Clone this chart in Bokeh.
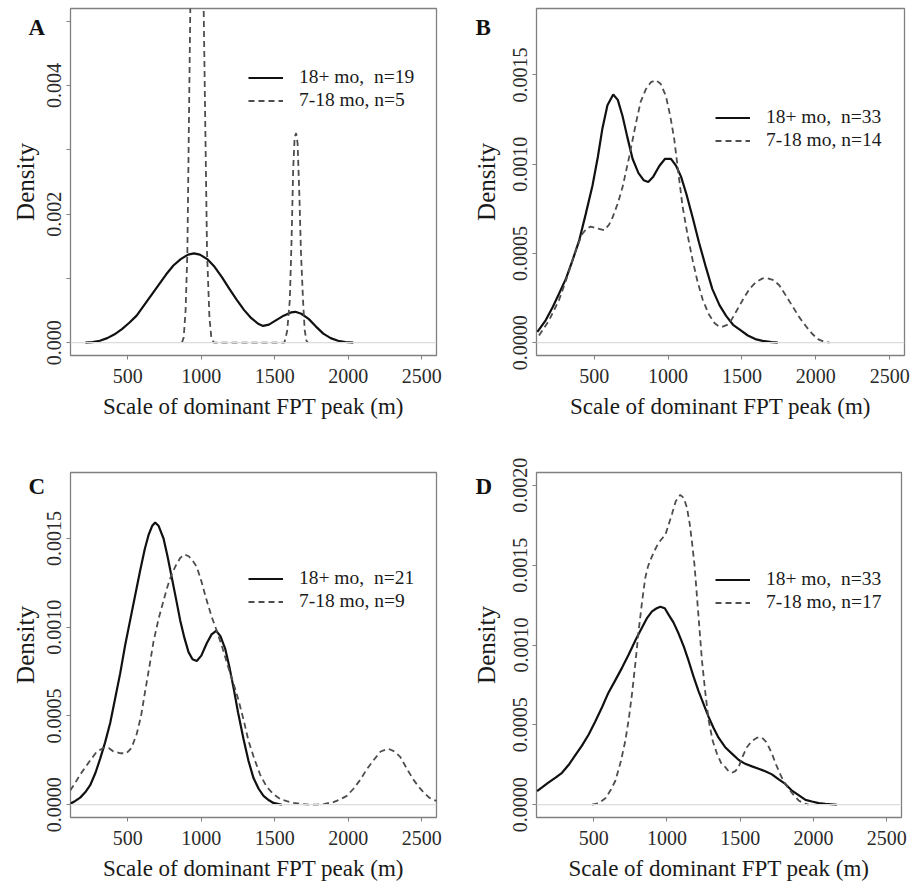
from bokeh.plotting import figure
from bokeh.layouts import column, row
from bokeh.models import Range1d, FixedTicker, Span, Legend, LegendItem, Label
from bokeh.embed import file_html
from bokeh.resources import INLINE

# ---------------- data ----------------
x_ticks = [500, 1000, 1500, 2000, 2500]
x_label = "Scale of dominant FPT peak (m)"
y_label = "Density"

# Panel A
a_solid_x = [211, 260, 310, 360, 410, 460, 510, 560, 610, 660, 710, 760, 810, 860, 910, 950, 990, 1040,
             1090, 1140, 1190, 1240, 1290, 1340, 1390, 1420, 1460, 1510, 1560, 1610, 1640, 1680, 1730,
             1780, 1830, 1880, 1930, 1980, 2034]
a_solid_y = [0.0, 0.000008, 0.00003, 0.00007, 0.00013, 0.00021, 0.00031, 0.00042, 0.00058, 0.00074,
             0.0009, 0.00106, 0.0012, 0.0013, 0.00137, 0.00139, 0.00137, 0.0013, 0.00118, 0.00102,
             0.00084, 0.00067, 0.00051, 0.00038, 0.00029, 0.00026, 0.00028, 0.00035, 0.00042, 0.00047,
             0.00048, 0.00045, 0.00037, 0.00025, 0.00014, 0.00007, 0.00003, 0.00001, 0.0]
a_dash_x = [868, 880, 893, 905, 925, 945, 970, 995, 1016, 1039, 1055, 1068, 1085, 1565, 1584, 1602,
            1614, 1625, 1635, 1645, 1655, 1667, 1678, 1692, 1703, 1715, 1725]
a_dash_y = [0.0, 0.00008, 0.0005, 0.0014, 0.0052, 0.0085, 0.0095, 0.0085, 0.0052, 0.0014, 0.0004,
            0.00008, 0.0, 0.0, 0.00018, 0.00066, 0.0016, 0.0027, 0.0032, 0.00326, 0.0031, 0.0023,
            0.0014, 0.00066, 0.0002, 0.00003, 0.0]
a_labels = ["18+ mo,\u00a0 n=19", "7-18 mo, n=5"]
a_y_ticks = [0.0, 0.001, 0.002, 0.003, 0.004, 0.005]
a_y_tick_labels = ["0.000", "", "0.002", "", "0.004", ""]

# Panel B
b_solid_x = [116, 172, 220, 263, 310, 353, 398, 443, 489, 525, 556, 590, 629, 660, 692, 725, 760, 800,
             835, 866, 900, 941, 980, 1020, 1055, 1088, 1125, 1167, 1210, 1257, 1300, 1348, 1393, 1440,
             1490, 1540, 1590, 1640, 1700, 1743]
b_solid_y = [0.00006, 0.000125, 0.0002, 0.000275, 0.00036, 0.00046, 0.00057, 0.00072, 0.00088, 0.00104,
             0.0012, 0.00133, 0.00139, 0.00136, 0.00127, 0.00115, 0.00103, 0.00095, 0.00091, 0.0009,
             0.00093, 0.00099, 0.00103, 0.00103, 0.00099, 0.00093, 0.00083, 0.0007, 0.00056, 0.00042,
             0.0003, 0.00021, 0.00015, 0.0001, 0.00007, 0.00004, 0.00002, 0.00001, 0.000003, 0.0]
b_dash_x = [127, 195, 263, 310, 353, 390, 421, 450, 477, 520, 568, 600, 624, 660, 692, 737, 783, 815,
            850, 885, 918, 950, 986, 1015, 1042, 1070, 1099, 1133, 1167, 1200, 1235, 1275, 1314, 1345,
            1370, 1400, 1427, 1465, 1506, 1550, 1596, 1640, 1675, 1715, 1754, 1800, 1845, 1890, 1935,
            1975, 2014, 2050, 2093]
b_dash_y = [0.00004, 0.000125, 0.00024, 0.00035, 0.00046, 0.00055, 0.00061, 0.00064, 0.00065, 0.00064,
            0.00063, 0.00066, 0.0007, 0.00078, 0.00087, 0.00104, 0.00123, 0.00135, 0.00142, 0.00146,
            0.00147, 0.00145, 0.00138, 0.00127, 0.00114, 0.00095, 0.00076, 0.0006, 0.00046, 0.00034,
            0.00024, 0.00016, 0.00011, 0.00009, 0.00009, 0.0001, 0.000125, 0.00018, 0.00024, 0.0003,
            0.00034, 0.00036, 0.00036, 0.00035, 0.00032, 0.00026, 0.0002, 0.00014, 0.00009, 0.00005,
            0.00002, 0.000007, 0.0]
b_labels = ["18+ mo,\u00a0 n=33", "7-18 mo, n=14"]
bc_y_ticks = [0.0, 0.0005, 0.001, 0.0015]
bc_y_tick_labels = ["0.0000", "0.0005", "0.0010", "0.0015"]

# Panel C
c_solid_x = [108, 140, 176, 210, 244, 280, 312, 345, 380, 414, 448, 482, 516, 550, 584, 615, 641, 665,
             686, 710, 743, 770, 799, 828, 856, 885, 913, 940, 969, 1000, 1037, 1070, 1101, 1130, 1162,
             1190, 1219, 1250, 1287, 1320, 1355, 1390, 1423, 1460, 1491, 1548]
c_solid_y = [0.000006, 0.00002, 0.00004, 0.00007, 0.00011, 0.00018, 0.00026, 0.00035, 0.00046, 0.0006,
             0.00074, 0.0009, 0.00104, 0.00118, 0.00132, 0.00144, 0.00152, 0.00157, 0.00159, 0.00157,
             0.0015, 0.0014, 0.00128, 0.00116, 0.00104, 0.00094, 0.00086, 0.00082, 0.00081, 0.00084,
             0.00091, 0.00096, 0.00098, 0.00095, 0.00088, 0.00078, 0.00066, 0.00052, 0.00037, 0.00025,
             0.00015, 0.00009, 0.00005, 0.000025, 0.00001, 0.0]
c_dash_x = [108, 140, 176, 210, 244, 290, 334, 370, 402, 450, 490, 525, 561, 590, 618, 647, 675, 710,
            743, 770, 799, 828, 856, 885, 915, 945, 969, 1000, 1037, 1070, 1105, 1145, 1185, 1220, 1253,
            1290, 1321, 1360, 1400, 1445, 1491, 1540, 1582, 1630, 1672, 1730, 1786, 1840, 1899, 1945,
            1990, 2035, 2081, 2126, 2171, 2220, 2273, 2315, 2353, 2400, 2444, 2480, 2512, 2550, 2591, 2640]
c_dash_y = [0.00008, 0.00012, 0.00017, 0.00021, 0.00025, 0.0003, 0.00032, 0.00032, 0.0003, 0.00029,
            0.00029, 0.00032, 0.0004, 0.0005, 0.00064, 0.00078, 0.00092, 0.00105, 0.00115, 0.00123,
            0.0013, 0.00135, 0.00139, 0.00141, 0.0014, 0.00137, 0.00134, 0.00126, 0.00115, 0.00106,
            0.00098, 0.00088, 0.00077, 0.00068, 0.00059, 0.00047, 0.00036, 0.00026, 0.00017, 0.0001,
            0.00006, 0.00003, 0.00002, 0.00001, 0.000005, 0.0, 0.0, 0.000005, 0.000015, 0.00003,
            0.00005, 0.00009, 0.00014, 0.0002, 0.00025, 0.0003, 0.000315, 0.0003, 0.00027, 0.0002,
            0.00014, 0.0001, 0.00007, 0.00004, 0.000024, 0.00001]
c_labels = ["18+ mo,\u00a0 n=21", "7-18 mo, n=9"]

# Panel D
d_solid_x = [114, 150, 193, 240, 284, 330, 375, 420, 466, 510, 557, 600, 648, 695, 739, 785, 830, 865,
             898, 930, 955, 985, 1011, 1045, 1080, 1115, 1148, 1182, 1216, 1250, 1284, 1318, 1352, 1397,
             1443, 1490, 1534, 1580, 1625, 1670, 1716, 1760, 1807, 1850, 1898, 1945, 1989, 2035, 2080, 2159]
d_solid_y = [0.000085, 0.00011, 0.00014, 0.00017, 0.0002, 0.00025, 0.00031, 0.00037, 0.00044, 0.00052,
             0.00061, 0.0007, 0.00078, 0.00086, 0.00094, 0.00103, 0.00111, 0.00117, 0.00121, 0.00123,
             0.00124, 0.00123, 0.00119, 0.00114, 0.00107, 0.00099, 0.0009, 0.0008, 0.00071, 0.00063,
             0.00055, 0.00048, 0.00042, 0.00036, 0.00032, 0.00028, 0.000256, 0.00024, 0.000225, 0.00021,
             0.00019, 0.00016, 0.00013, 0.00009, 0.00006, 0.00003, 0.00002, 0.00001, 0.000006, 0.0]
d_dash_x = [489, 535, 580, 615, 648, 685, 716, 740, 761, 785, 807, 830, 852, 870, 886, 915, 943, 970,
            989, 1010, 1034, 1060, 1091, 1115, 1136, 1155, 1170, 1188, 1205, 1222, 1239, 1262, 1284,
            1312, 1341, 1370, 1398, 1420, 1443, 1466, 1489, 1515, 1545, 1580, 1614, 1648, 1680, 1716,
            1745, 1773, 1800, 1830, 1865, 1898, 1930, 1966]
d_dash_y = [0.0, 0.00001, 0.00004, 0.00009, 0.00015, 0.00027, 0.0004, 0.00054, 0.00069, 0.00089,
            0.00109, 0.00127, 0.00142, 0.00149, 0.00153, 0.00159, 0.00164, 0.00167, 0.00169, 0.00175,
            0.00182, 0.0019, 0.00194, 0.00192, 0.00186, 0.00176, 0.00165, 0.0015, 0.0013, 0.0011,
            0.0009, 0.0007, 0.00053, 0.0004, 0.00032, 0.00026, 0.000235, 0.00021, 0.0002, 0.00021,
            0.000235, 0.0003, 0.00036, 0.0004, 0.00042, 0.00042, 0.00039, 0.00032, 0.00025, 0.00019,
            0.00014, 0.0001, 0.00006, 0.000027, 0.00001, 0.0]
d_labels = ["18+ mo,\u00a0 n=33", "7-18 mo, n=17"]
d_y_ticks = [0.0, 0.0005, 0.001, 0.0015, 0.002]
d_y_tick_labels = ["0.0000", "0.0005", "0.0010", "0.0015", "0.0020"]

# ---------------- styling / layout ----------------
FONT = "Liberation Serif"
X_RANGE = (110, 2600)


def make_panel(letter, sx, sy, dx, dy, labels, y_rng, yt, ytl, width, height,
               bl, br, bt, bb, leg_left, leg_top, let_x, let_base, ylab_st, xlab_st, let_side):
    p = figure(width=width, height=height, output_backend="svg", toolbar_location=None,
               x_range=Range1d(*X_RANGE), y_range=Range1d(*y_rng),
               min_border_left=bl, min_border_right=br, min_border_top=bt, min_border_bottom=bb,
               background_fill_color="white", border_fill_color="white")
    p.grid.visible = False
    p.outline_line_color = "#808080"
    p.outline_line_width = 1.3

    p.add_layout(Span(location=0, dimension="width", line_color="#dcdcdc", line_width=1.2))

    r1 = p.line(sx, sy, line_color="#111111", line_width=2.2)
    r2 = p.line(dx, dy, line_color="#4d4d4d", line_width=1.8, line_dash="6 4")

    for ax in (p.xaxis[0], p.yaxis[0]):
        ax.axis_line_color = None
        ax.major_tick_line_color = "#808080"
        ax.major_tick_out = 4
        ax.major_tick_in = 0
        ax.minor_tick_line_color = None
        ax.major_label_text_font = FONT
        ax.major_label_text_color = "#2a2a2a"
        ax.axis_label_text_font = FONT
        ax.axis_label_text_font_style = "normal"
        ax.axis_label_text_color = "#1a1a1a"

    xa = p.xaxis[0]
    xa.ticker = FixedTicker(ticks=x_ticks)
    xa.major_label_text_font_size = "20px"
    xa.major_label_standoff = 9
    xa.axis_label = x_label
    xa.axis_label_text_font_size = "23px"
    xa.axis_label_standoff = xlab_st

    ya = p.yaxis[0]
    ya.ticker = FixedTicker(ticks=yt)
    ya.major_label_overrides = dict(zip(yt, ytl))
    ya.major_label_orientation = "vertical"
    ya.major_label_text_font_size = "20px"
    ya.major_label_standoff = 5
    ya.axis_label = y_label
    ya.axis_label_text_font_size = "25px"
    ya.axis_label_standoff = ylab_st

    frame_w = width - bl - br
    frame_h = height - bt - bb
    row_h = 23
    leg = Legend(items=[LegendItem(label=labels[0], renderers=[r1]),
                        LegendItem(label=labels[1], renderers=[r2])],
                 location=(leg_left, frame_h - leg_top - 2 * row_h),
                 glyph_width=35, glyph_height=row_h, label_height=row_h,
                 label_standoff=16, spacing=0, padding=0, margin=0,
                 border_line_alpha=0, background_fill_alpha=0,
                 label_text_font=FONT, label_text_font_size="19.5px",
                 label_text_color="#1a1a1a")
    p.add_layout(leg)

    # panel letter in the left margin; put in a side panel that has spare room so it is
    # not clipped to the frame. Pixel offsets from the frame's top-left -> data units.
    lx = X_RANGE[0] + let_x / frame_w * (X_RANGE[1] - X_RANGE[0])
    ly = y_rng[1] - let_base / frame_h * (y_rng[1] - y_rng[0])
    p.add_layout(Label(text=letter, x=lx, y=ly,
                       text_font=FONT, text_font_style="bold", text_font_size="23px",
                       text_baseline="alphabetic", text_align="left", text_color="#111111"),
                 let_side)
    return p


pa = make_panel("A", a_solid_x, a_solid_y, a_dash_x, a_dash_y, a_labels, (-0.0002, 0.0052),
                a_y_ticks, a_y_tick_labels, 458, 446, 70, 22, 8, 91, 178, 57.5, -42, 19, 6, 8, "below")
pb = make_panel("B", b_solid_x, b_solid_y, b_dash_x, b_dash_y, b_labels, (-0.000072, 0.001872),
                bc_y_ticks, bc_y_tick_labels, 459, 446, 78, 13, 8, 91, 179, 97.5, -61, 19, 11, 8, "below")
pc = make_panel("C", c_solid_x, c_solid_y, c_dash_x, c_dash_y, c_labels, (-0.000072, 0.001872),
                bc_y_ticks, bc_y_tick_labels, 458, 437, 70, 22, 26, 66, 178, 94.5, -42, 14, 6, 8, "above")
pd_ = make_panel("D", d_solid_x, d_solid_y, d_dash_x, d_dash_y, d_labels, (-0.00008, 0.00208),
                 d_y_ticks, d_y_tick_labels, 459, 437, 78, 16, 26, 66, 179, 95.5, -61, 14, 11, 8, "above")

layout = column(row(pa, pb), row(pc, pd_))

with open("out.html", "w") as f:
    f.write(file_html(layout, INLINE))
